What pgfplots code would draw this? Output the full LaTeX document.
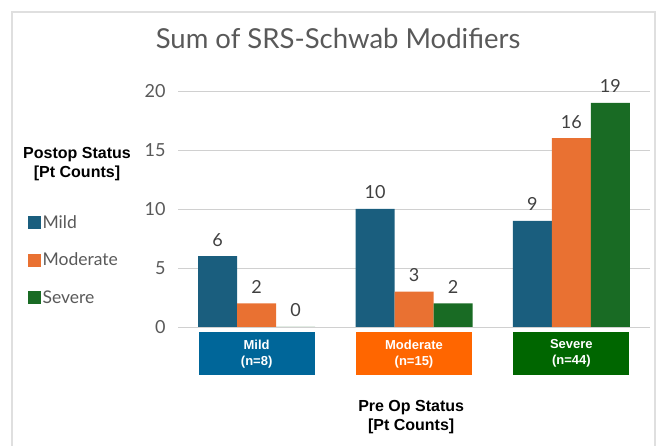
\documentclass[border=0pt]{standalone}
\usepackage{pgfplots}
\pgfplotsset{compat=1.18}
\usepackage{fontspec}
\setmainfont{Lato}
\newfontfamily\arial{Liberation Sans}
\definecolor{barblue}{HTML}{1A5E7E}
\definecolor{barorange}{HTML}{E97132}
\definecolor{bargreen}{HTML}{196B24}
\definecolor{boxblue}{HTML}{006699}
\definecolor{boxorange}{HTML}{FF6600}
\definecolor{boxgreen}{HTML}{006600}
\definecolor{tickgray}{HTML}{595959}
\definecolor{labgray}{HTML}{404040}
\definecolor{gridgray}{HTML}{D0D0D0}
\newcommand{\catbox}[3]{{\setlength{\fboxsep}{0pt}\colorbox{#1}{\parbox[c][43pt][c]{116pt}{\centering\color{white}\arial\bfseries\fontsize{13}{16}\selectfont #2\\#3}}}}
\begin{document}
\begin{tikzpicture}[x=1pt,y=1pt]
\path[use as bounding box] (0,0) rectangle (661,446);
\draw[gray!25, line width=1.2pt] (12,-5) rectangle (655,434);
\begin{axis}[
  at={(178pt,119pt)}, anchor=south west,
  scale only axis, width=472pt, height=236pt,
  xmin=-0.5, xmax=2.5, ymin=0, ymax=20,
  ybar=0pt, bar width=39pt,
  axis line style={draw=none},
  ymajorgrids, grid style={gridgray, line width=0.9pt},
  ytick={0,5,10,15,20},
  xtick={0,1,2},
  xticklabels={{\catbox{boxblue}{Mild}{(n=8)}},{\catbox{boxorange}{Moderate}{(n=15)}},{\catbox{boxgreen}{Severe}{(n=44)}}},
  xticklabel style={inner sep=0pt, anchor=north, yshift=-5pt},
  major tick length=0pt,
  /pgf/number format/assume math mode=true,
  yticklabel style={font=\fontsize{18}{21}\selectfont, text=tickgray, xshift=-9pt},
  nodes near coords,
  nodes near coords style={font=\fontsize{18}{21}\selectfont, text=labgray, yshift=6.5pt},
  clip=false,
  title={Sum of SRS-Schwab Modifiers},
  title style={at={(axis description cs:0.339,1.195)}, anchor=center, font=\fontsize{27.5}{32}\selectfont, text=tickgray},
  xlabel={Pre Op Status\\{}[Pt Counts]},
  xlabel style={at={(axis description cs:0.494,-0.383)}, anchor=center, align=center, font=\arial\bfseries\fontsize{16}{19}\selectfont},
  legend image code/.code={\fill[#1] (0pt,-6.5pt) rectangle (13pt,6.5pt);},
  legend style={at={(axis description cs:-0.318,0.479)}, anchor=north west, draw=none, fill=none, inner sep=0pt, row sep=20pt, nodes={inner sep=1.5pt, font=\fontsize{17.5}{20}\selectfont, text=tickgray}},
  legend cell align=left,
]
\addplot[fill=barblue, draw=none] coordinates {(0,6) (1,10) (2,9)};
\addplot[fill=barorange, draw=none] coordinates {(0,2) (1,3) (2,16)};
\addplot[fill=bargreen, draw=none] coordinates {(0,0) (1,2) (2,19)};
\legend{Mild,Moderate,Severe}
\end{axis}
\node[font=\arial\bfseries\fontsize{16}{19}\selectfont, align=center] at (77,282) {Postop Status\\{}[Pt Counts]};
\end{tikzpicture}
\end{document}
